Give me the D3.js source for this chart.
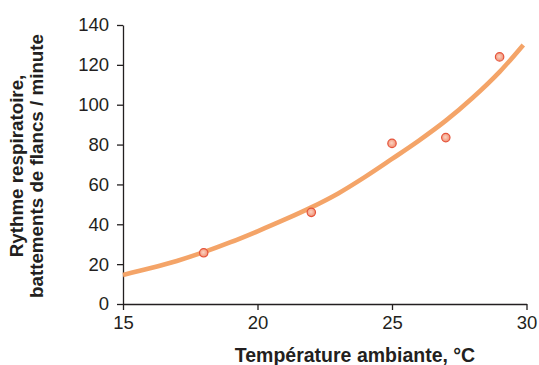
<!DOCTYPE html>
<html>
<head>
<meta charset="utf-8">
<script src="https://cdn.jsdelivr.net/npm/d3@7"></script>
<style>
  body { margin: 0; background: #fff; }
  text { font-family: "Liberation Sans", Arial, sans-serif; fill: #231f20; }
</style>
</head>
<body>
<svg id="chart" width="539" height="365"></svg>
<script>
// ── Data ──────────────────────────────────────────────────────────────────
const obsTemp = [18, 22, 25, 27, 29];
const obsRate = [25.7, 46, 80.6, 83.5, 124];

// fitted curve
const fitTemp = [15, 16, 17, 18, 19, 20, 21, 22, 23, 24, 25, 26, 27, 28, 29, 29.88];
const fitRate = [14.6, 17.9, 21.6, 26, 31, 36.5, 42.3, 48.5, 55.5, 63.8, 72.8, 82, 92, 103.5, 116.5, 130];

const xTicks = [15, 20, 25, 30];
const yTicks = [0, 20, 40, 60, 80, 100, 120, 140];

// ── Layout ────────────────────────────────────────────────────────────────
const svg = d3.select('#chart');
const x = d3.scaleLinear().domain([15, 30]).range([123, 526.5]);
const y = d3.scaleLinear().domain([0, 140]).range([304, 25]);
const INK = '#231f20';
const FONT = '"Liberation Sans", Arial, sans-serif';

// ── Axes ──────────────────────────────────────────────────────────────────
svg.append('g').attr('transform', `translate(0,${y(0)})`)
  .call(d3.axisBottom(x).tickValues(xTicks).tickSize(6).tickPadding(6).tickSizeOuter(0))
  .call(a => a.selectAll('.domain, line').attr('stroke', INK).attr('stroke-width', 1.3))
  .call(a => a.selectAll('text').attr('font-size', 18.5).attr('fill', INK).style('font-family', FONT));

svg.append('g').attr('transform', `translate(${x(15)},0)`)
  .call(d3.axisLeft(y).tickValues(yTicks).tickSize(6).tickPadding(8).tickSizeOuter(0))
  .call(a => a.selectAll('.domain, line').attr('stroke', INK).attr('stroke-width', 1.3))
  .call(a => a.selectAll('text').attr('font-size', 18.5).attr('fill', INK).style('font-family', FONT));

// ── Axis titles ───────────────────────────────────────────────────────────
svg.append('text')
  .attr('x', 355).attr('y', 361.5)
  .attr('text-anchor', 'middle').attr('font-size', 19.5).attr('font-weight', 'bold')
  .text('Température ambiante, °C');

const yt = svg.append('text')
  .attr('transform', 'translate(0,166) rotate(-90)')
  .attr('text-anchor', 'middle').attr('font-size', 18.8).attr('font-weight', 'bold');
yt.append('tspan').attr('x', 0).attr('y', 23).text('Rythme respiratoire,');
yt.append('tspan').attr('x', 0).attr('y', 43).text('battements de flancs / minute');

// ── Curve ─────────────────────────────────────────────────────────────────
const line = d3.line()
  .x((d, i) => x(fitTemp[i]))
  .y(d => y(d))
  .curve(d3.curveCatmullRom);

svg.append('path')
  .attr('d', line(fitRate))
  .attr('fill', 'none')
  .attr('stroke', '#f4a468')
  .attr('stroke-width', 4.6);

// ── Points ────────────────────────────────────────────────────────────────
const grad = svg.append('defs').append('radialGradient').attr('id', 'ptGrad')
  .attr('cx', '45%').attr('cy', '45%').attr('r', '60%');
grad.append('stop').attr('offset', '0%').attr('stop-color', '#fbd3c2');
grad.append('stop').attr('offset', '100%').attr('stop-color', '#f08a6c');

svg.append('g').selectAll('circle')
  .data(obsTemp)
  .join('circle')
  .attr('cx', d => x(d))
  .attr('cy', (d, i) => y(obsRate[i]))
  .attr('r', 4.2)
  .attr('fill', 'url(#ptGrad)')
  .attr('stroke', '#e5533a')
  .attr('stroke-width', 1.2);
</script>
</body>
</html>
